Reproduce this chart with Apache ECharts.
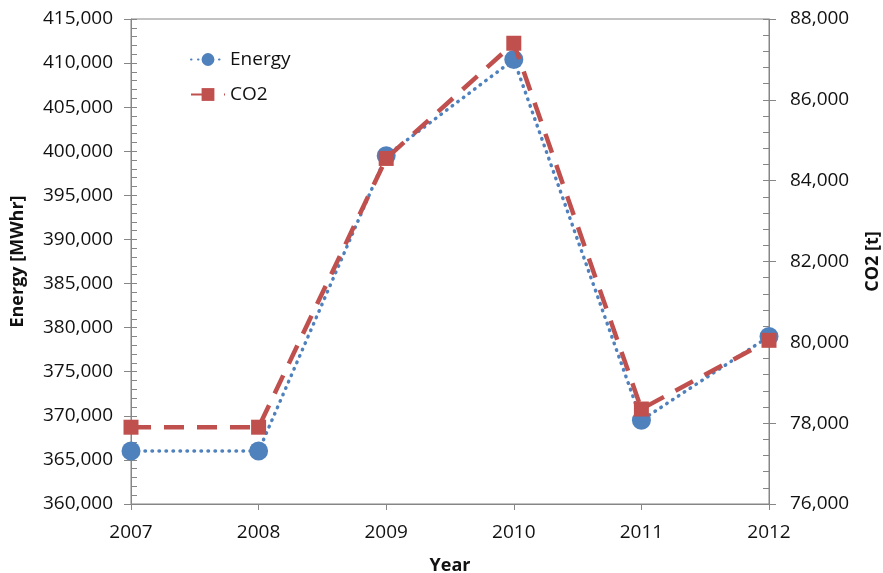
<!DOCTYPE html>
<html>
<head>
<meta charset="utf-8">
<script src="https://cdn.jsdelivr.net/npm/echarts@6/dist/echarts.min.js"></script>
<style>
  html, body { margin: 0; padding: 0; background: #fff; }
  #chart { width: 883px; height: 573px; }
</style>
</head>
<body>
<div id="chart"></div>
<script>
// Annual energy use and CO2 emissions
const years = [2007, 2008, 2009, 2010, 2011, 2012];
const energyMWhr = [366000, 366000, 399500, 410400, 369500, 379000];
const co2Tonnes = [77900, 77900, 84550, 87400, 78350, 80050];

const energyAxis = { min: 360000, max: 415000, interval: 5000 };
const co2Axis = { min: 76000, max: 88000, interval: 2000 };

const FONT = '"Open Sans", "Liberation Sans", sans-serif';
const AXIS_GREY = '#868686';
const BLUE = '#4F81BD';
const RED = '#C0504D';

const tickLabel = { color: '#111', fontFamily: FONT, fontSize: 19 };
const nameStyle = { color: '#111', fontFamily: FONT, fontSize: 18, fontWeight: 'bold' };

// Axis pairs: the primary axis carries labels + inner ticks + minor ticks,
// the overlay axis adds the outer half of each major tick.
function yPair(range, position, name, gap, margin) {
  const main = {
    type: 'value', position, ...range,
    name, nameLocation: 'middle', nameGap: gap, nameRotate: 90,
    nameTextStyle: nameStyle,
    axisLine: { show: true, lineStyle: { color: AXIS_GREY, width: 1 } },
    axisTick: { show: true, inside: true, length: 6, lineStyle: { color: AXIS_GREY } },
    minorTick: { show: true, splitNumber: 5, length: 6, lineStyle: { color: AXIS_GREY } },
    axisLabel: { ...tickLabel, margin },
    splitLine: { show: false }
  };
  const overlay = {
    type: 'value', position, ...range,
    axisLine: { show: false },
    axisTick: { show: true, inside: false, length: 7, lineStyle: { color: AXIS_GREY } },
    axisLabel: { show: false },
    splitLine: { show: false }
  };
  return [main, overlay];
}

const [leftMain, leftOverlay] = yPair(energyAxis, 'left', 'Energy [MWhr]', 104, 18);
const [rightMain, rightOverlay] = yPair(co2Axis, 'right', 'CO2 [t]', 95, 21);

const chart = echarts.init(document.getElementById('chart'), null, { renderer: 'canvas' });

chart.setOption({
  backgroundColor: '#ffffff',
  animation: false,
  grid: {
    left: 131, right: 114, top: 19, bottom: 69,
    outerBoundsMode: 'none', containLabel: false,
    show: true, borderColor: AXIS_GREY, borderWidth: 1, backgroundColor: 'transparent'
  },
  legend: {
    orient: 'vertical',
    left: 190, top: 50, padding: 0,
    itemWidth: 34, itemHeight: 16, itemGap: 16,
    textStyle: { color: '#111', fontFamily: FONT, fontSize: 19 },
    data: ['Energy', 'CO2']
  },
  xAxis: {
    type: 'value', min: 2007, max: 2012, interval: 1,
    name: 'Year', nameLocation: 'middle', nameGap: 53,
    nameTextStyle: nameStyle,
    axisLine: { show: true, lineStyle: { color: AXIS_GREY, width: 1 } },
    axisTick: { show: true, inside: false, length: 6, lineStyle: { color: AXIS_GREY } },
    axisLabel: { ...tickLabel, margin: 19, formatter: v => String(v) },
    splitLine: { show: false }
  },
  yAxis: [leftMain, rightMain, leftOverlay, rightOverlay],
  series: [
    {
      name: 'Energy', type: 'line', yAxisIndex: 0,
      data: years.map((y, i) => [y, energyMWhr[i]]),
      symbol: 'circle', symbolSize: 19,
      itemStyle: { color: BLUE },
      lineStyle: { color: BLUE, width: 3.5, type: [0.5, 6.5], cap: 'round' },
      z: 2
    },
    {
      name: 'CO2', type: 'line', yAxisIndex: 1,
      data: years.map((y, i) => [y, co2Tonnes[i]]),
      symbol: 'rect', symbolSize: 15,
      itemStyle: { color: RED },
      lineStyle: { color: RED, width: 4.5, type: [20, 13], cap: 'butt' },
      z: 3
    }
  ]
});
</script>
</body>
</html>
